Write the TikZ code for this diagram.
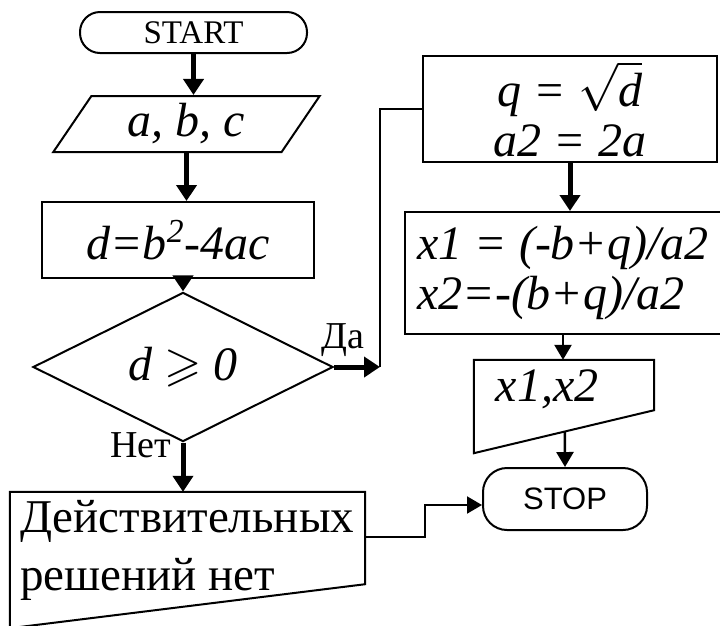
\RequirePackage{fix-cm}
\documentclass[tikz,border=0pt]{standalone}
\usepackage{fontspec}
\usepackage{amssymb}
\setmainfont{Liberation Serif}
\setsansfont{Liberation Sans}
\usetikzlibrary{shapes.geometric,arrows.meta,calc}

\newcommand{\flowit}{\fontsize{48}{50}\selectfont\itshape}

\begin{document}
\begin{tikzpicture}[x=1pt,y=-1pt]
\tikzstyle{every node}=[font=\flowit, inner sep=0pt]
\tikzstyle{outline}=[line width=2pt]
\tikzstyle{box}=[draw, outline]
\tikzstyle{flowthick}=[line width=5pt, -{Triangle[length=16pt,width=20pt]}]
\tikzstyle{flowthin}=[line width=2.5pt, -{Triangle[length=15pt,width=17pt]}]

\useasboundingbox (0,0) rectangle (720,625);
\clip (0,0) rectangle (720,625);

% left column
\node[box, rounded corners=20pt, minimum width=227pt, minimum height=41pt, font=\fontsize{33}{38}\selectfont] (start) at (193.5,32.5) {START};
\node[box, trapezium, trapezium left angle=60, trapezium right angle=120, trapezium stretches=true, minimum width=267pt, minimum height=56pt] (abc) at (186.5,124) {a, b, c};
\node[box, minimum width=272pt, minimum height=76pt] (disc) at (178,240) {d=b\textsuperscript{2}-4ac};
\node[box, diamond, minimum width=300pt, minimum height=122pt] (cond) at (183,367) {d $\geqslant$ 0};
\node[font=\fontsize{38}{44}\selectfont] (nolbl) at (141,445) {Нет};

\node[minimum width=355pt, minimum height=136pt] (nosol) at (187.5,560) {};
\node[font=\fontsize{47}{58}\selectfont, align=left, anchor=north west] (nosoltxt) at (20,500) {Действительных\\решений нет};
\draw[outline] (nosol.south west) -- (nosol.north west) -- (nosol.north east) -- ([yshift=44pt]nosol.south east) -- cycle;

% right column
\node[font=\fontsize{38}{44}\selectfont] (yeslbl) at (343,340) {Да};
\node[box, minimum width=294pt, minimum height=106pt, align=center] (sq) at (570,109) {q = $\sqrt{\textit{d}}$\\a2 = 2a};
\node[box, minimum width=316pt, minimum height=122pt, align=left] (roots) at (563,273) {x1 = (-b+q)/a2\\x2=-(b+q)/a2};

\node[minimum width=180pt, minimum height=93pt] (out) at (564,406.5) {};
\node (outtxt) at (547,389) {x1,x2};
\draw[outline] (out.north west) -- (out.north east) -- ([yshift=43pt]out.south east) -- (out.south west) -- cycle;

\node[box, rounded corners=24pt, minimum width=164pt, minimum height=62pt, font=\fontsize{31}{36}\selectfont\sffamily] (stop) at (565,499) {STOP};

% connectors
\draw[flowthick] (start.south) -- (start.south |- abc.north);
\draw[flowthick] (abc.south) -- (abc.south |- disc.north);
\draw[flowthick] (cond.north |- disc.south) -- (cond.north);
\coordinate (yes) at (380,367);
\draw[flowthick] (cond.east) -- (yes);
\draw[outline] (yes) |- (sq.west);
\draw[flowthick] (cond.south) -- (cond.south |- nosol.north);
\draw[flowthick] (sq.south) -- (sq.south |- roots.north);
\draw[flowthin] (roots.south) -- (roots.south |- out.north);
\coordinate (outcut) at ($(out.south west)!0.505!([yshift=43pt]out.south east)$);
\draw[flowthin] (outcut) -- (stop.north);
\draw[flowthin, line width=2pt] ([yshift=23pt]nosol.east) -- +(60,0) |- ([yshift=-6pt]stop.west);
\end{tikzpicture}
\end{document}
